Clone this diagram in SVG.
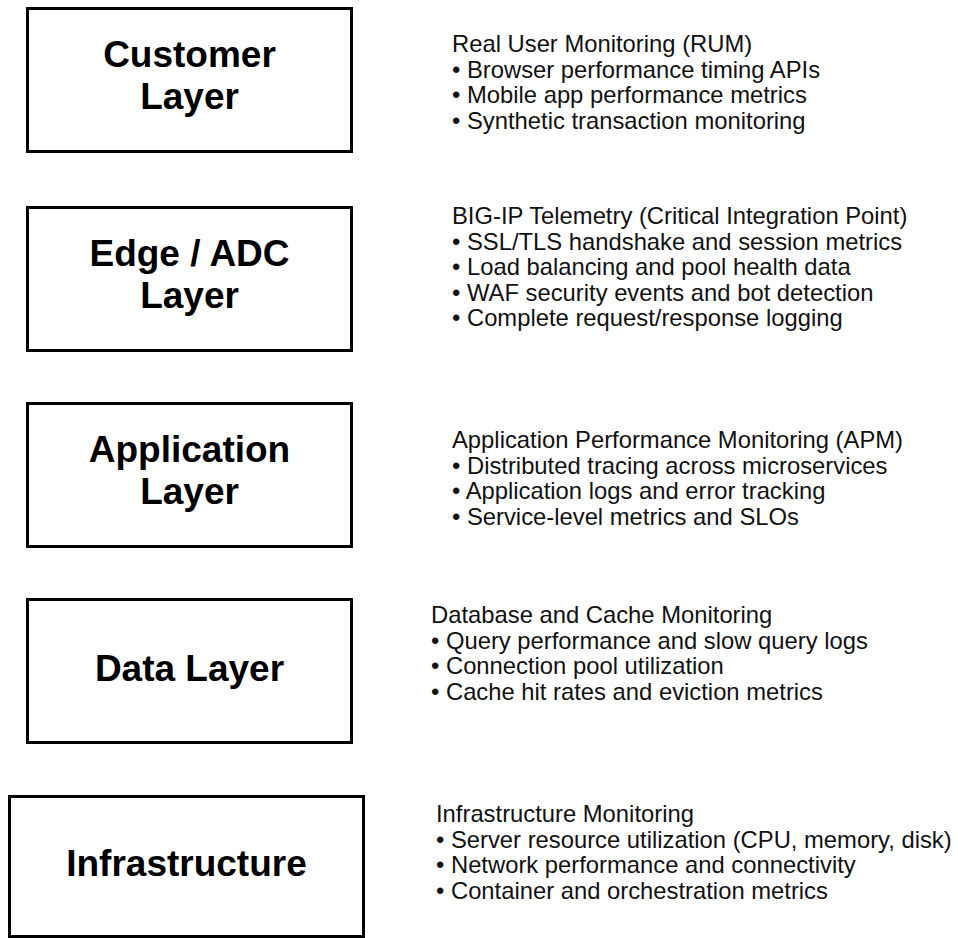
<svg xmlns="http://www.w3.org/2000/svg" width="958" height="938" viewBox="0 0 958 938">
<style>
.box{fill:#fff;stroke:#000;stroke-width:3}
.lbl{font-family:"Liberation Sans",Arial,sans-serif;font-weight:bold;font-size:37px;fill:#000;text-anchor:middle}
.txt{font-family:"Liberation Sans",Arial,sans-serif;font-size:23.8px;fill:#111}
</style>
<rect width="958" height="938" fill="#fff"/>
<g id="connectors"></g>
<g id="customer">
<rect class="box" x="27.5" y="8.5" width="324" height="143"/>
<text class="lbl" x="189.5" y="67">Customer</text>
<text class="lbl" x="189.5" y="109">Layer</text>
</g>
<g id="customer-notes">
<text class="txt" x="452" y="52">Real User Monitoring (RUM)</text>
<text class="txt" x="452" y="77.5">• Browser performance timing APIs</text>
<text class="txt" x="452" y="103">• Mobile app performance metrics</text>
<text class="txt" x="452" y="128.5">• Synthetic transaction monitoring</text>
</g>
<g id="edge">
<rect class="box" x="27.5" y="207.5" width="324" height="143"/>
<text class="lbl" x="189.5" y="265.5">Edge / ADC</text>
<text class="lbl" x="189.5" y="307.5">Layer</text>
</g>
<g id="edge-notes">
<text class="txt" x="452" y="224">BIG-IP Telemetry (Critical Integration Point)</text>
<text class="txt" x="452" y="249.5">• SSL/TLS handshake and session metrics</text>
<text class="txt" x="452" y="275">• Load balancing and pool health data</text>
<text class="txt" x="452" y="300.5">• WAF security events and bot detection</text>
<text class="txt" x="452" y="326">• Complete request/response logging</text>
</g>
<g id="application">
<rect class="box" x="27.5" y="403.5" width="324" height="143"/>
<text class="lbl" x="189.5" y="461.5">Application</text>
<text class="lbl" x="189.5" y="503.5">Layer</text>
</g>
<g id="application-notes">
<text class="txt" x="452" y="448">Application Performance Monitoring (APM)</text>
<text class="txt" x="452" y="473.5">• Distributed tracing across microservices</text>
<text class="txt" x="452" y="499">• Application logs and error tracking</text>
<text class="txt" x="452" y="524.5">• Service-level metrics and SLOs</text>
</g>
<g id="data">
<rect class="box" x="27.5" y="599.5" width="324" height="143"/>
<text class="lbl" x="189.5" y="680.5">Data Layer</text>
</g>
<g id="data-notes">
<text class="txt" x="431" y="623">Database and Cache Monitoring</text>
<text class="txt" x="431" y="648.5">• Query performance and slow query logs</text>
<text class="txt" x="431" y="674">• Connection pool utilization</text>
<text class="txt" x="431" y="699.5">• Cache hit rates and eviction metrics</text>
</g>
<g id="infrastructure">
<rect class="box" x="9.5" y="796.5" width="354" height="140"/>
<text class="lbl" x="186.5" y="875.5">Infrastructure</text>
</g>
<g id="infrastructure-notes">
<text class="txt" x="436" y="822">Infrastructure Monitoring</text>
<text class="txt" x="436" y="847.5">• Server resource utilization (CPU, memory, disk)</text>
<text class="txt" x="436" y="873">• Network performance and connectivity</text>
<text class="txt" x="436" y="898.5">• Container and orchestration metrics</text>
</g>
</svg>
